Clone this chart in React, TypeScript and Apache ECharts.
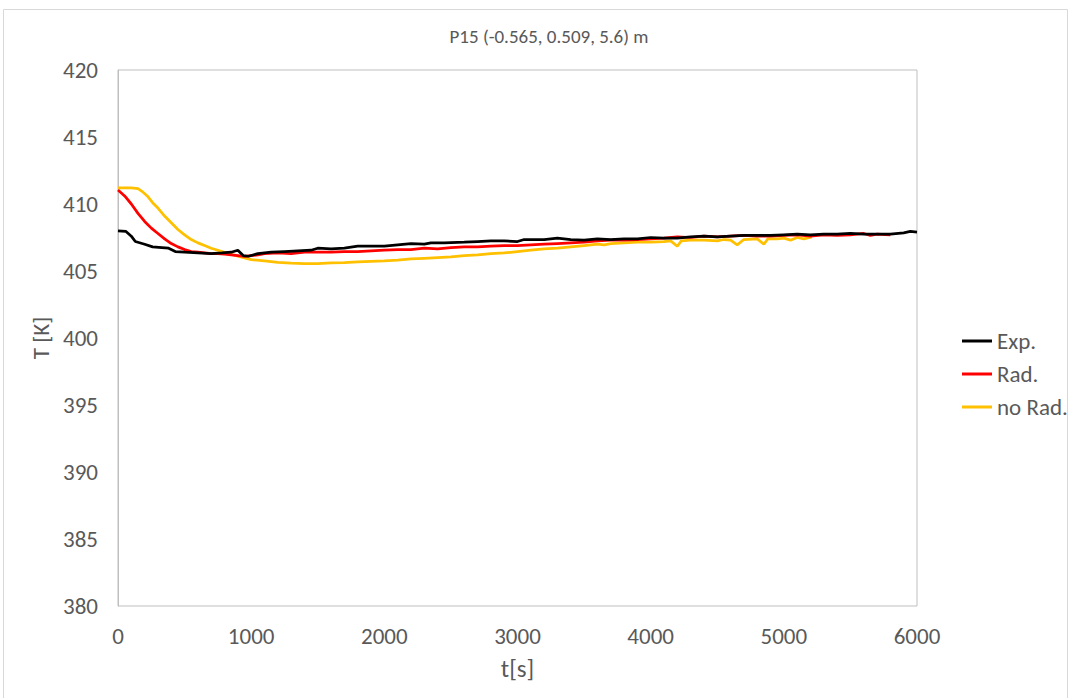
import React, { useEffect, useRef } from "react";
import * as echarts from "echarts";

const TITLE = "P15 (-0.565, 0.509, 5.6) m";
const SERIES_NAMES = ["Exp.", "Rad.", "no Rad."];
const COLORS = ["#000000", "#ff0000", "#ffc000"];

const expT = [0, 60, 100, 130, 200, 260, 330, 380, 430, 500, 600, 700, 780, 850, 900, 940, 980, 1050, 1150, 1250, 1350, 1450, 1500, 1600, 1700, 1800, 1900, 2000, 2100, 2200, 2300, 2350, 2450, 2600, 2700, 2800, 2900, 3000, 3050, 3200, 3300, 3400, 3500, 3600, 3700, 3800, 3900, 4000, 4100, 4200, 4300, 4400, 4500, 4600, 4700, 4800, 4900, 5000, 5100, 5200, 5300, 5400, 5500, 5600, 5700, 5800, 5900, 5950, 6000];
const expV = [408.0, 407.95, 407.6, 407.2, 407.0, 406.8, 406.75, 406.7, 406.45, 406.4, 406.35, 406.3, 406.35, 406.4, 406.55, 406.15, 406.1, 406.3, 406.4, 406.45, 406.5, 406.55, 406.7, 406.65, 406.7, 406.85, 406.85, 406.85, 406.95, 407.05, 407.0, 407.1, 407.1, 407.15, 407.2, 407.25, 407.25, 407.2, 407.35, 407.35, 407.45, 407.35, 407.3, 407.4, 407.35, 407.4, 407.4, 407.5, 407.45, 407.45, 407.55, 407.6, 407.55, 407.6, 407.65, 407.65, 407.65, 407.7, 407.75, 407.7, 407.75, 407.75, 407.8, 407.75, 407.75, 407.75, 407.85, 407.95, 407.9];

const radT = [0, 50, 100, 150, 200, 250, 300, 350, 400, 450, 500, 550, 600, 650, 700, 750, 800, 850, 900, 950, 1000, 1050, 1100, 1200, 1300, 1400, 1500, 1600, 1700, 1800, 1900, 2000, 2100, 2200, 2300, 2400, 2500, 2600, 2700, 2800, 2900, 3000, 3100, 3200, 3300, 3400, 3500, 3600, 3700, 3800, 3900, 4000, 4100, 4200, 4300, 4400, 4500, 4600, 4700, 4800, 4900, 5000, 5100, 5200, 5300, 5400, 5500, 5600, 5650, 5700, 5800];
const radV = [411.05, 410.6, 410.0, 409.3, 408.7, 408.2, 407.8, 407.4, 407.05, 406.8, 406.6, 406.45, 406.4, 406.35, 406.3, 406.3, 406.25, 406.2, 406.15, 406.1, 406.15, 406.2, 406.3, 406.35, 406.3, 406.4, 406.4, 406.4, 406.45, 406.45, 406.5, 406.55, 406.6, 406.6, 406.7, 406.65, 406.75, 406.8, 406.8, 406.85, 406.9, 406.9, 406.95, 407.0, 407.05, 407.1, 407.15, 407.25, 407.3, 407.3, 407.35, 407.4, 407.45, 407.55, 407.5, 407.6, 407.55, 407.6, 407.65, 407.6, 407.6, 407.65, 407.7, 407.6, 407.7, 407.65, 407.7, 407.8, 407.65, 407.75, 407.7];

const noRadT = [0, 50, 100, 150, 180, 220, 260, 300, 350, 400, 450, 500, 550, 600, 650, 700, 750, 800, 850, 900, 950, 1000, 1100, 1200, 1300, 1400, 1500, 1600, 1700, 1800, 1900, 2000, 2100, 2200, 2300, 2400, 2500, 2600, 2700, 2800, 2900, 3000, 3100, 3200, 3300, 3400, 3500, 3600, 3650, 3700, 3800, 3900, 4000, 4100, 4150, 4200, 4230, 4300, 4400, 4500, 4550, 4600, 4650, 4700, 4800, 4850, 4880, 4950, 5000, 5050, 5100, 5150, 5210];
const noRadV = [411.2, 411.2, 411.2, 411.15, 410.95, 410.6, 410.1, 409.7, 409.1, 408.6, 408.1, 407.7, 407.35, 407.1, 406.9, 406.7, 406.55, 406.4, 406.25, 406.1, 405.98, 405.85, 405.75, 405.65, 405.58, 405.55, 405.55, 405.6, 405.62, 405.68, 405.72, 405.75, 405.82, 405.9, 405.95, 406.0, 406.05, 406.15, 406.2, 406.3, 406.35, 406.45, 406.55, 406.65, 406.7, 406.8, 406.9, 407.0, 406.95, 407.05, 407.1, 407.15, 407.15, 407.2, 407.25, 406.85, 407.25, 407.3, 407.3, 407.25, 407.35, 407.3, 406.95, 407.35, 407.4, 407.0, 407.4, 407.4, 407.45, 407.3, 407.5, 407.4, 407.55];

const X_MIN = 0, X_MAX = 6000, X_INT = 1000;
const Y_MIN = 380, Y_MAX = 420, Y_INT = 5;

const zip = (t: number[], v: number[]) => t.map((x, i) => [x, v[i]]);

const FONT = "Carlito, Roboto, 'Liberation Sans', sans-serif";

export default function App() {
  const ref = useRef<HTMLDivElement>(null);
  useEffect(() => {
    const chart = echarts.init(ref.current!, null, { renderer: "svg" });
    const data = [zip(expT, expV), zip(radT, radV), zip(noRadT, noRadV)];
    chart.setOption({
      animation: false,
      backgroundColor: "#ffffff",
      title: {
        text: TITLE,
        left: 544,
        textAlign: "center",
        top: 22,
        textStyle: { fontFamily: FONT, fontSize: 19, fontWeight: "normal", color: "#595959" },
      },
      graphic: [
        {
          type: "rect",
          shape: { x: 3.5, y: 9.5, width: 1064, height: 700 },
          style: { fill: "none", stroke: "#d9d9d9", lineWidth: 1 },
          silent: true,
        },
      ],
      legend: {
        orient: "vertical",
        left: 957,
        top: 324,
        icon: "rect",
        itemWidth: 30,
        itemHeight: 3,
        itemGap: 9,
        textStyle: { fontFamily: FONT, fontSize: 23, color: "#595959", lineHeight: 24 },
        data: SERIES_NAMES,
      },
      grid: {
        left: 118,
        right: 153,
        top: 70,
        bottom: 92,
        show: true,
        borderColor: "#bfbfbf",
        borderWidth: 1,
      },
      xAxis: {
        type: "value",
        min: X_MIN,
        max: X_MAX,
        interval: X_INT,
        name: "t[s]",
        nameLocation: "middle",
        nameGap: 50,
        nameTextStyle: { fontFamily: FONT, fontSize: 25, color: "#595959" },
        axisLine: { show: false },
        axisTick: { show: false },
        splitLine: { show: false },
        axisLabel: {
          margin: 18,
          fontFamily: FONT,
          fontSize: 23,
          color: "#595959",
          formatter: (v: number) => String(v),
        },
      },
      yAxis: {
        type: "value",
        min: Y_MIN,
        max: Y_MAX,
        interval: Y_INT,
        name: "T [K]",
        nameLocation: "middle",
        nameGap: 64,
        nameTextStyle: { fontFamily: FONT, fontSize: 23, color: "#595959" },
        axisLine: { show: true, lineStyle: { color: "#bfbfbf" } },
        axisTick: { show: false },
        splitLine: { show: false },
        axisLabel: { margin: 20, fontFamily: FONT, fontSize: 23, color: "#595959" },
      },
      series: SERIES_NAMES.map((name, i) => ({
        name,
        type: "line",
        data: data[i],
        showSymbol: false,
        symbol: "none",
        lineStyle: { color: COLORS[i], width: 2.75 },
        itemStyle: { color: COLORS[i] },
        z: 3 - i,
      })),
    });
    return () => chart.dispose();
  }, []);
  return <div ref={ref} style={{ width: 1070, height: 698, position: "absolute", left: 0, top: 0 }} />;
}
